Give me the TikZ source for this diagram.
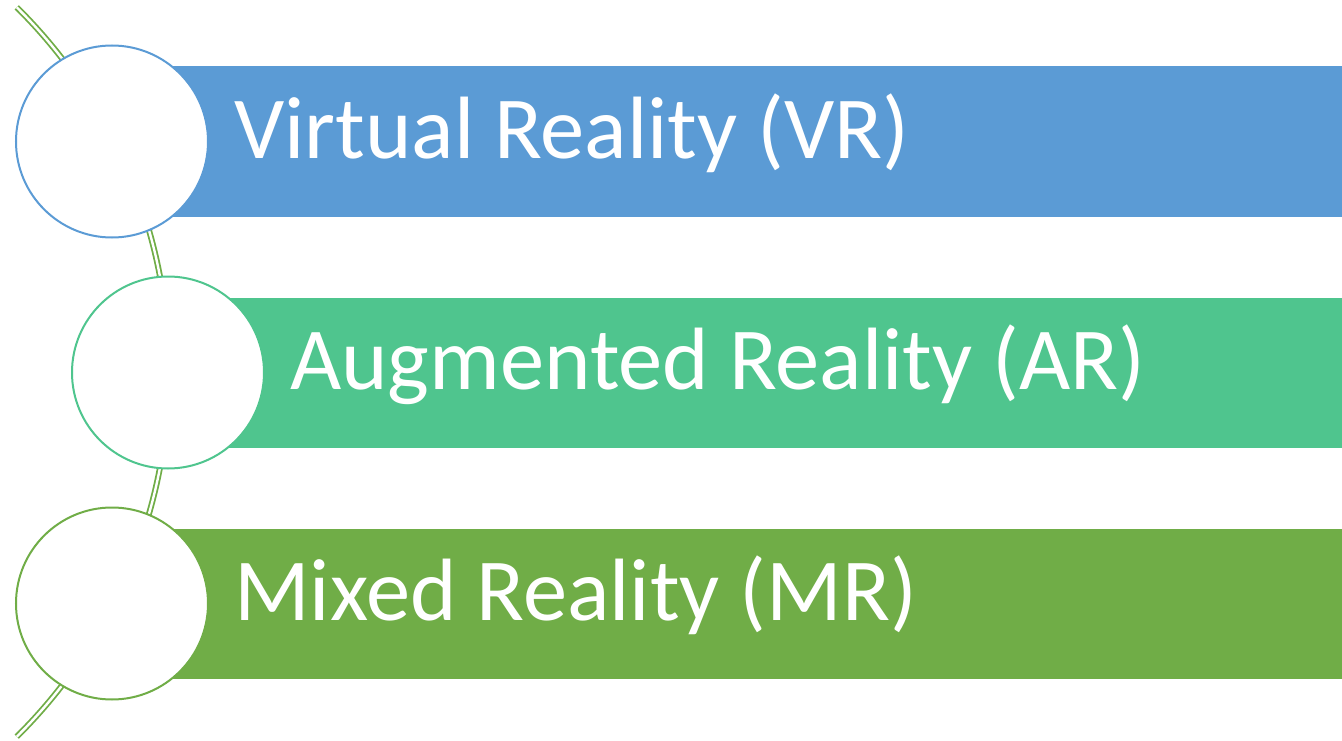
\documentclass[tikz,border=0pt]{standalone}
\usepackage{fontspec}
\setmainfont{Carlito}
\usepackage{tikz}
\definecolor{vrblue}{HTML}{5B9BD5}
\definecolor{argreen}{HTML}{4FC58E}
\definecolor{mrgreen}{HTML}{70AD47}

\begin{document}
\begin{tikzpicture}[x=1pt,y=-1pt,
  bar/.style={rectangle, anchor=west, minimum width=1300, minimum height=150, inner sep=0},
  disc/.style={circle, fill=white, line width=2pt, minimum size=192, inner sep=0},
  label/.style={anchor=base west, inner sep=0, text=white, font=\fontsize{88.5}{100}\selectfont},
  spine/.style={double=white, draw=mrgreen, line width=1.8pt, double distance=2.4pt}]
\useasboundingbox (0,0) rectangle (1342,741);
% curved spine behind the circles
\coordinate (hub) at (-344,372);
\draw[spine] (hub) ++(-45.3:513) arc[radius=513, start angle=-45.3, end angle=45.3];
% bars, circles and labels
\foreach \n/\x/\y/\col/\txt in {vr/112/141.5/vrblue/Virtual Reality (VR),
    ar/168/372.5/argreen/Augmented Reality (AR),
    mr/112/603.5/mrgreen/Mixed Reality (MR)} {
  \node[bar, fill=\col] (\n-bar) at (\x,\y) {};
  \node[disc, draw=\col] (\n) at (\x,\y) {};
  \node[label] (\n-text) at (\x+122,\y+17) {\txt};
}
\end{tikzpicture}
\end{document}
